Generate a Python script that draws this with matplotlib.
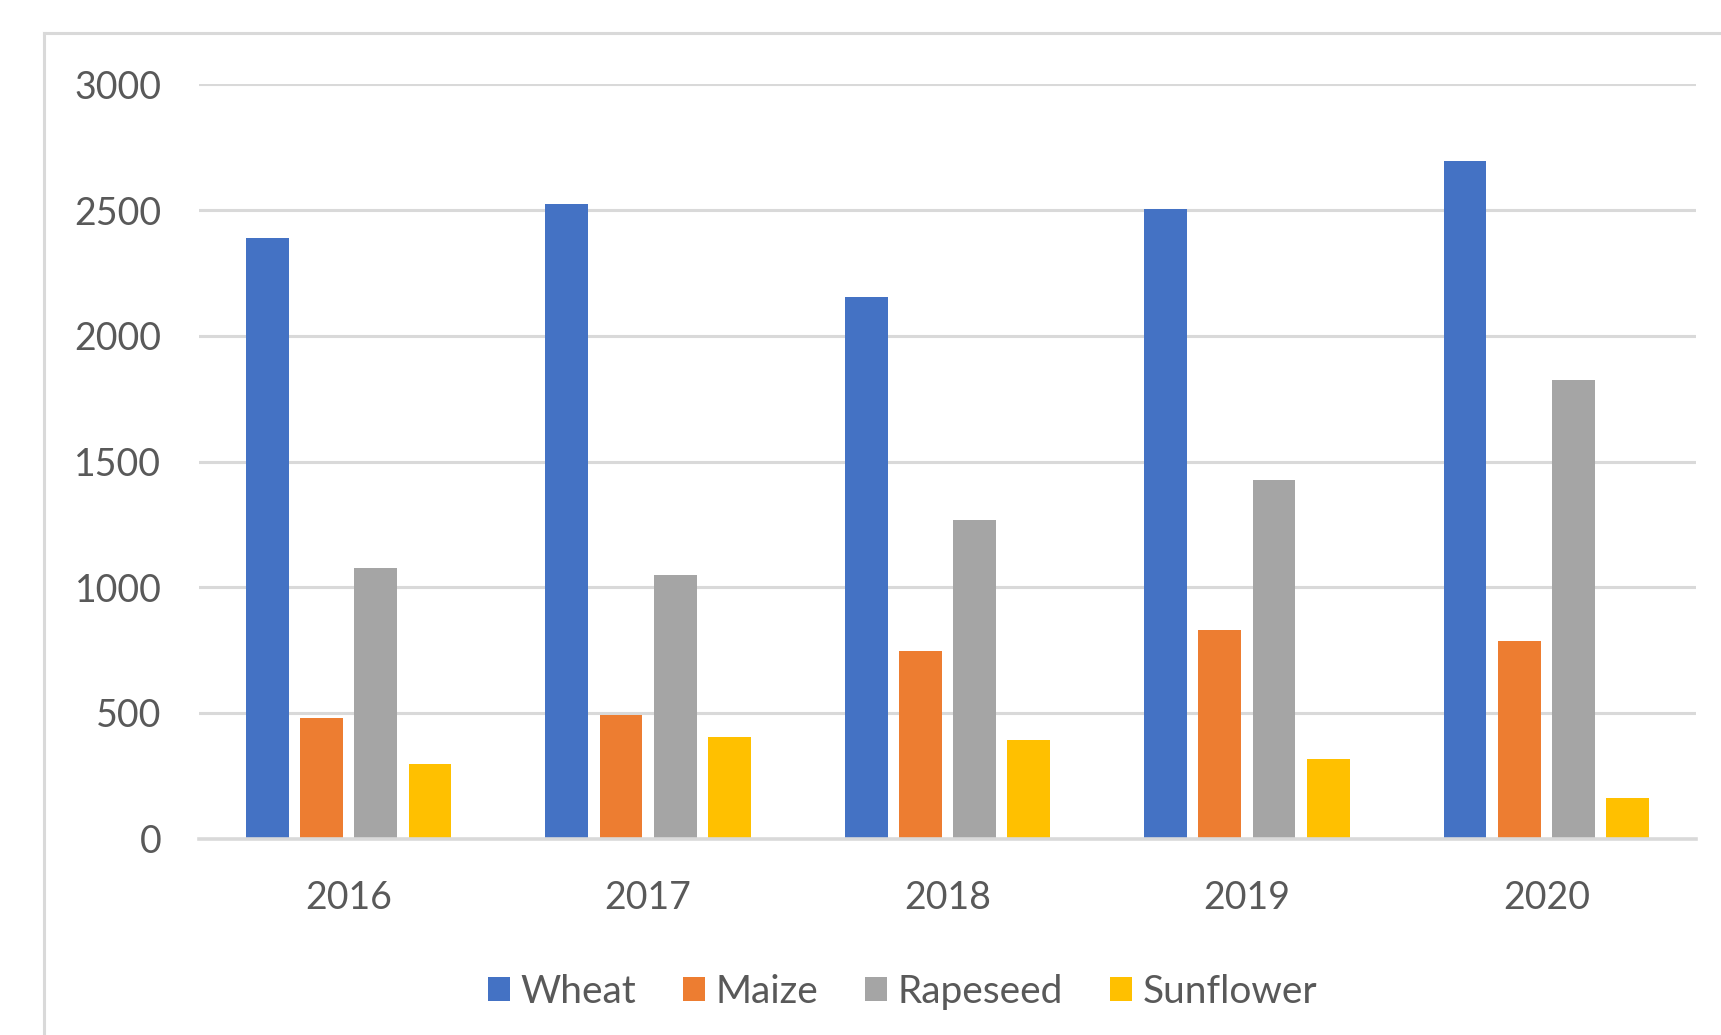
import matplotlib
matplotlib.use("Agg")
import matplotlib.pyplot as plt
import numpy as np
from matplotlib.lines import Line2D

years = ["2016", "2017", "2018", "2019", "2020"]
crops = ["Wheat", "Maize", "Rapeseed", "Sunflower"]
wheat = [2390, 2525, 2155, 2505, 2695]
maize = [478, 490, 748, 830, 785]
rapeseed = [1075, 1048, 1267, 1428, 1825]
sunflower = [297, 405, 393, 315, 162]
colors = ["#4472C4", "#ED7D31", "#A5A5A5", "#FFC000"]

plt.rcParams["font.family"] = ["Lato", "DejaVu Sans"]
txt = "#595959"
grid = "#D9D9D9"

fig = plt.figure(figsize=(17.21, 10.35), dpi=100)
ax = fig.add_axes([0.1156, 0.1898, 0.8699, 0.7286])

x = np.arange(len(years))
pitch = 0.181
width = 0.143
series = [wheat, maize, rapeseed, sunflower]
for i, vals in enumerate(series):
    ax.bar(x + (i - 1.5) * pitch, vals, width, color=colors[i], label=crops[i], zorder=3)

ax.set_xlim(-0.5, len(years) - 0.5)
ax.set_ylim(0, 3000)
ax.set_yticks(range(0, 3001, 500))
ax.set_xticks(x)
ax.set_xticklabels(years)
ax.yaxis.grid(True, color=grid, linewidth=2.2, zorder=0)
for s in ["top", "right", "left"]:
    ax.spines[s].set_visible(False)
ax.spines["bottom"].set_color(grid)
ax.spines["bottom"].set_linewidth(2.6)
ax.spines["bottom"].set_zorder(4)
ax.tick_params(axis="both", length=0, labelsize=27, labelcolor=txt)
ax.tick_params(axis="y", pad=27)
ax.tick_params(axis="x", pad=30)

# chart area border (left and top edges visible)
fig.add_artist(Line2D([44 / 1721, 44 / 1721], [0, 1 - 33 / 1035], color=grid, linewidth=2.2))
fig.add_artist(Line2D([44 / 1721, 1], [1 - 33 / 1035, 1 - 33 / 1035], color=grid, linewidth=2.2))

leg = fig.legend(loc="center", bbox_to_anchor=(0.5245, 0.0415), ncol=4, frameon=False,
                 fontsize=28, handlelength=0.56, handleheight=0.56, handletextpad=0.28,
                 columnspacing=1.2, labelcolor=txt)

fig.savefig("out.png", dpi=100)
